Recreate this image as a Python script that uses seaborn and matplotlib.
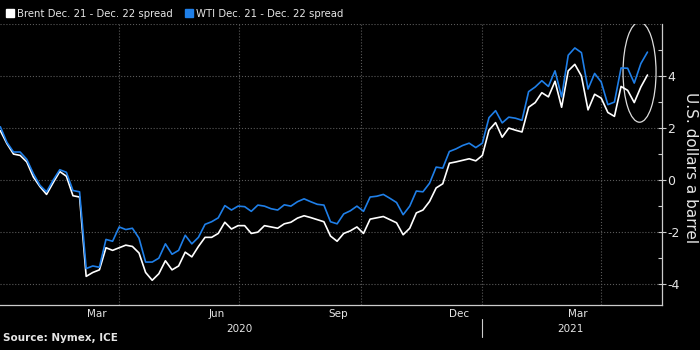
import pandas as pd
import matplotlib
matplotlib.use('Agg')
import matplotlib.pyplot as plt
import matplotlib.dates as mdates
import matplotlib.transforms as mtransforms
from matplotlib.patches import Ellipse, Patch
import seaborn as sns

# data, one point every 5 days
dates = pd.date_range('2020-01-02', periods=99, freq='5D')

brent = [1.90, 1.40, 1.00, 0.95, 0.70, 0.12, -0.25, -0.55, -0.10, 0.33,
         0.15, -0.60, -0.65, -3.70, -3.55, -3.45, -2.60, -2.70, -2.60, -2.50,
         -2.55, -2.80, -3.55, -3.85, -3.60, -3.10, -3.45, -3.30, -2.77, -2.95,
         -2.55, -2.20, -2.20, -2.05, -1.62, -1.88, -1.75, -1.75, -2.05, -2.00,
         -1.75, -1.80, -1.85, -1.68, -1.62, -1.46, -1.37, -1.44, -1.52, -1.60,
         -2.15, -2.35, -2.05, -1.95, -1.80, -2.05, -1.50, -1.45, -1.40, -1.52,
         -1.64, -2.10, -1.85, -1.26, -1.15, -0.82, -0.30, -0.14, 0.65, 0.70,
         0.76, 0.82, 0.74, 0.95, 1.92, 2.21, 1.65, 2.00, 1.92, 1.85,
         2.80, 2.98, 3.36, 3.20, 3.80, 2.80, 4.20, 4.45, 4.00, 2.70,
         3.30, 3.15, 2.60, 2.45, 3.60, 3.45, 2.98, 3.58, 4.04]

wti = [2.05, 1.45, 1.08, 1.08, 0.80, 0.25, -0.20, -0.45, 0.00, 0.40,
       0.30, -0.40, -0.45, -3.40, -3.30, -3.35, -2.28, -2.35, -1.80, -1.90,
       -1.85, -2.23, -3.15, -3.15, -3.00, -2.45, -2.85, -2.70, -2.12, -2.45,
       -2.20, -1.70, -1.60, -1.45, -0.98, -1.15, -1.00, -1.02, -1.20, -0.96,
       -1.00, -1.10, -1.15, -0.95, -1.00, -0.83, -0.72, -0.83, -0.93, -0.96,
       -1.60, -1.68, -1.30, -1.18, -1.00, -1.20, -0.65, -0.62, -0.55, -0.70,
       -0.86, -1.33, -1.00, -0.42, -0.45, -0.12, 0.50, 0.46, 1.10, 1.20,
       1.33, 1.42, 1.25, 1.42, 2.40, 2.67, 2.20, 2.42, 2.38, 2.30,
       3.40, 3.58, 3.82, 3.60, 4.20, 3.20, 4.80, 5.08, 4.90, 3.50,
       4.10, 3.77, 2.90, 3.00, 4.31, 4.30, 3.73, 4.48, 4.92]

series_names = ['Brent Dec. 21 - Dec. 22 spread', 'WTI Dec. 21 - Dec. 22 spread']
colors = ['#ffffff', '#1f7fe8']

month_labels = ['Mar', 'Jun', 'Sep', 'Dec', 'Mar']
month_label_dates = pd.to_datetime(['2020-03-15', '2020-06-14', '2020-09-14',
                                    '2020-12-14', '2021-03-14'])
quarter_lines = pd.to_datetime(['2020-04-01', '2020-07-01', '2020-10-01',
                                '2021-01-01', '2021-04-01'])

df = pd.DataFrame({'date': dates, series_names[0]: brent, series_names[1]: wti})
df = df.melt(id_vars='date', var_name='series', value_name='value')

sns.set_style('dark')
plt.rcParams['font.family'] = ['DejaVu Sans']
plt.rcParams['axes.unicode_minus'] = False
txt = '#e6e6e6'

fig = plt.figure(figsize=(7, 3.5), dpi=100, facecolor='black')
ax = fig.add_axes([0.0, 0.1286, 0.9457, 0.8028])
ax.set_facecolor('black')

sns.lineplot(data=df, x='date', y='value', hue='series', hue_order=series_names,
             palette=dict(zip(series_names, colors)), linewidth=1.2,
             legend=False, ax=ax)

ax.set_xlim(pd.Timestamp('2020-01-01 18:00'), pd.Timestamp('2021-05-17'))
ax.set_ylim(-4.8, 6.0)

# grid
for v in [-4, -2, 0, 2, 4, 6]:
    ax.axhline(v, color='#5a5a5a', ls=':', lw=0.8, zorder=0)
for d in quarter_lines:
    ax.axvline(d, color='#5a5a5a', ls=':', lw=0.8, zorder=0)

# y axis on the right
ax.yaxis.tick_right()
ax.yaxis.set_label_position('right')
ax.set_yticks([-4, -2, 0, 2, 4])
ax.set_yticks([-3, -1, 1, 3, 5], minor=True)
ax.tick_params(axis='y', which='major', direction='inout', length=6, width=0.8,
               colors='#cccccc', labelcolor=txt, labelsize=9, pad=1)
ax.tick_params(axis='y', which='minor', direction='in', length=3, width=0.8,
               colors='#cccccc')
ax.set_ylabel('U.S. dollars a barrel', color=txt, fontsize=11, rotation=270,
              labelpad=14)
ax.yaxis.set_label_coords(1.055, 0.49)

# x axis: month ticks, labels mid-month
ax.xaxis.set_major_locator(mdates.MonthLocator())
ax.xaxis.set_major_formatter(plt.NullFormatter())
ax.set_xticks(month_label_dates, minor=True)
ax.set_xticklabels(month_labels, minor=True)
ax.tick_params(axis='x', which='major', direction='in', length=3, width=0.8,
               colors='#cccccc')
ax.tick_params(axis='x', which='minor', length=0, labelcolor=txt,
               labelsize=7.5, pad=3)
ax.set_xlabel('')

for s in ['top', 'left']:
    ax.spines[s].set_visible(False)
for s in ['right', 'bottom']:
    ax.spines[s].set_color('#cccccc')
    ax.spines[s].set_linewidth(0.9)

trans = mtransforms.blended_transform_factory(ax.transData, ax.transAxes)
ax.text(pd.Timestamp('2020-07-01'), -0.085, '2020', transform=trans,
        ha='center', va='center', color=txt, fontsize=7.5)
ax.text(pd.Timestamp('2021-03-09'), -0.085, '2021', transform=trans,
        ha='center', va='center', color=txt, fontsize=7.5)
ax.plot([pd.Timestamp('2021-01-01')] * 2, [-0.05, -0.115], transform=trans,
        color='#cccccc', lw=0.8, clip_on=False)

# circle around the latest move
ax.add_patch(Ellipse((mdates.date2num(pd.Timestamp('2021-04-30')), 4.15),
                     width=25, height=3.85, fill=False, edgecolor='#dddddd',
                     lw=0.9))

handles = [Patch(facecolor=c, edgecolor=c) for c in colors]
fig.legend(handles, series_names, loc='center left', bbox_to_anchor=(0.005, 0.961),
           ncol=2, frameon=False, fontsize=7.3, labelcolor=txt,
           handlelength=0.8, handleheight=0.8, handletextpad=0.3,
           columnspacing=1.2, borderpad=0.2, borderaxespad=0.0)

fig.text(0.004, 0.02, 'Source: Nymex, ICE', color=txt, fontsize=7.5,
         fontweight='bold', ha='left', va='bottom')

fig.savefig('out.png', dpi=100, facecolor='black')
